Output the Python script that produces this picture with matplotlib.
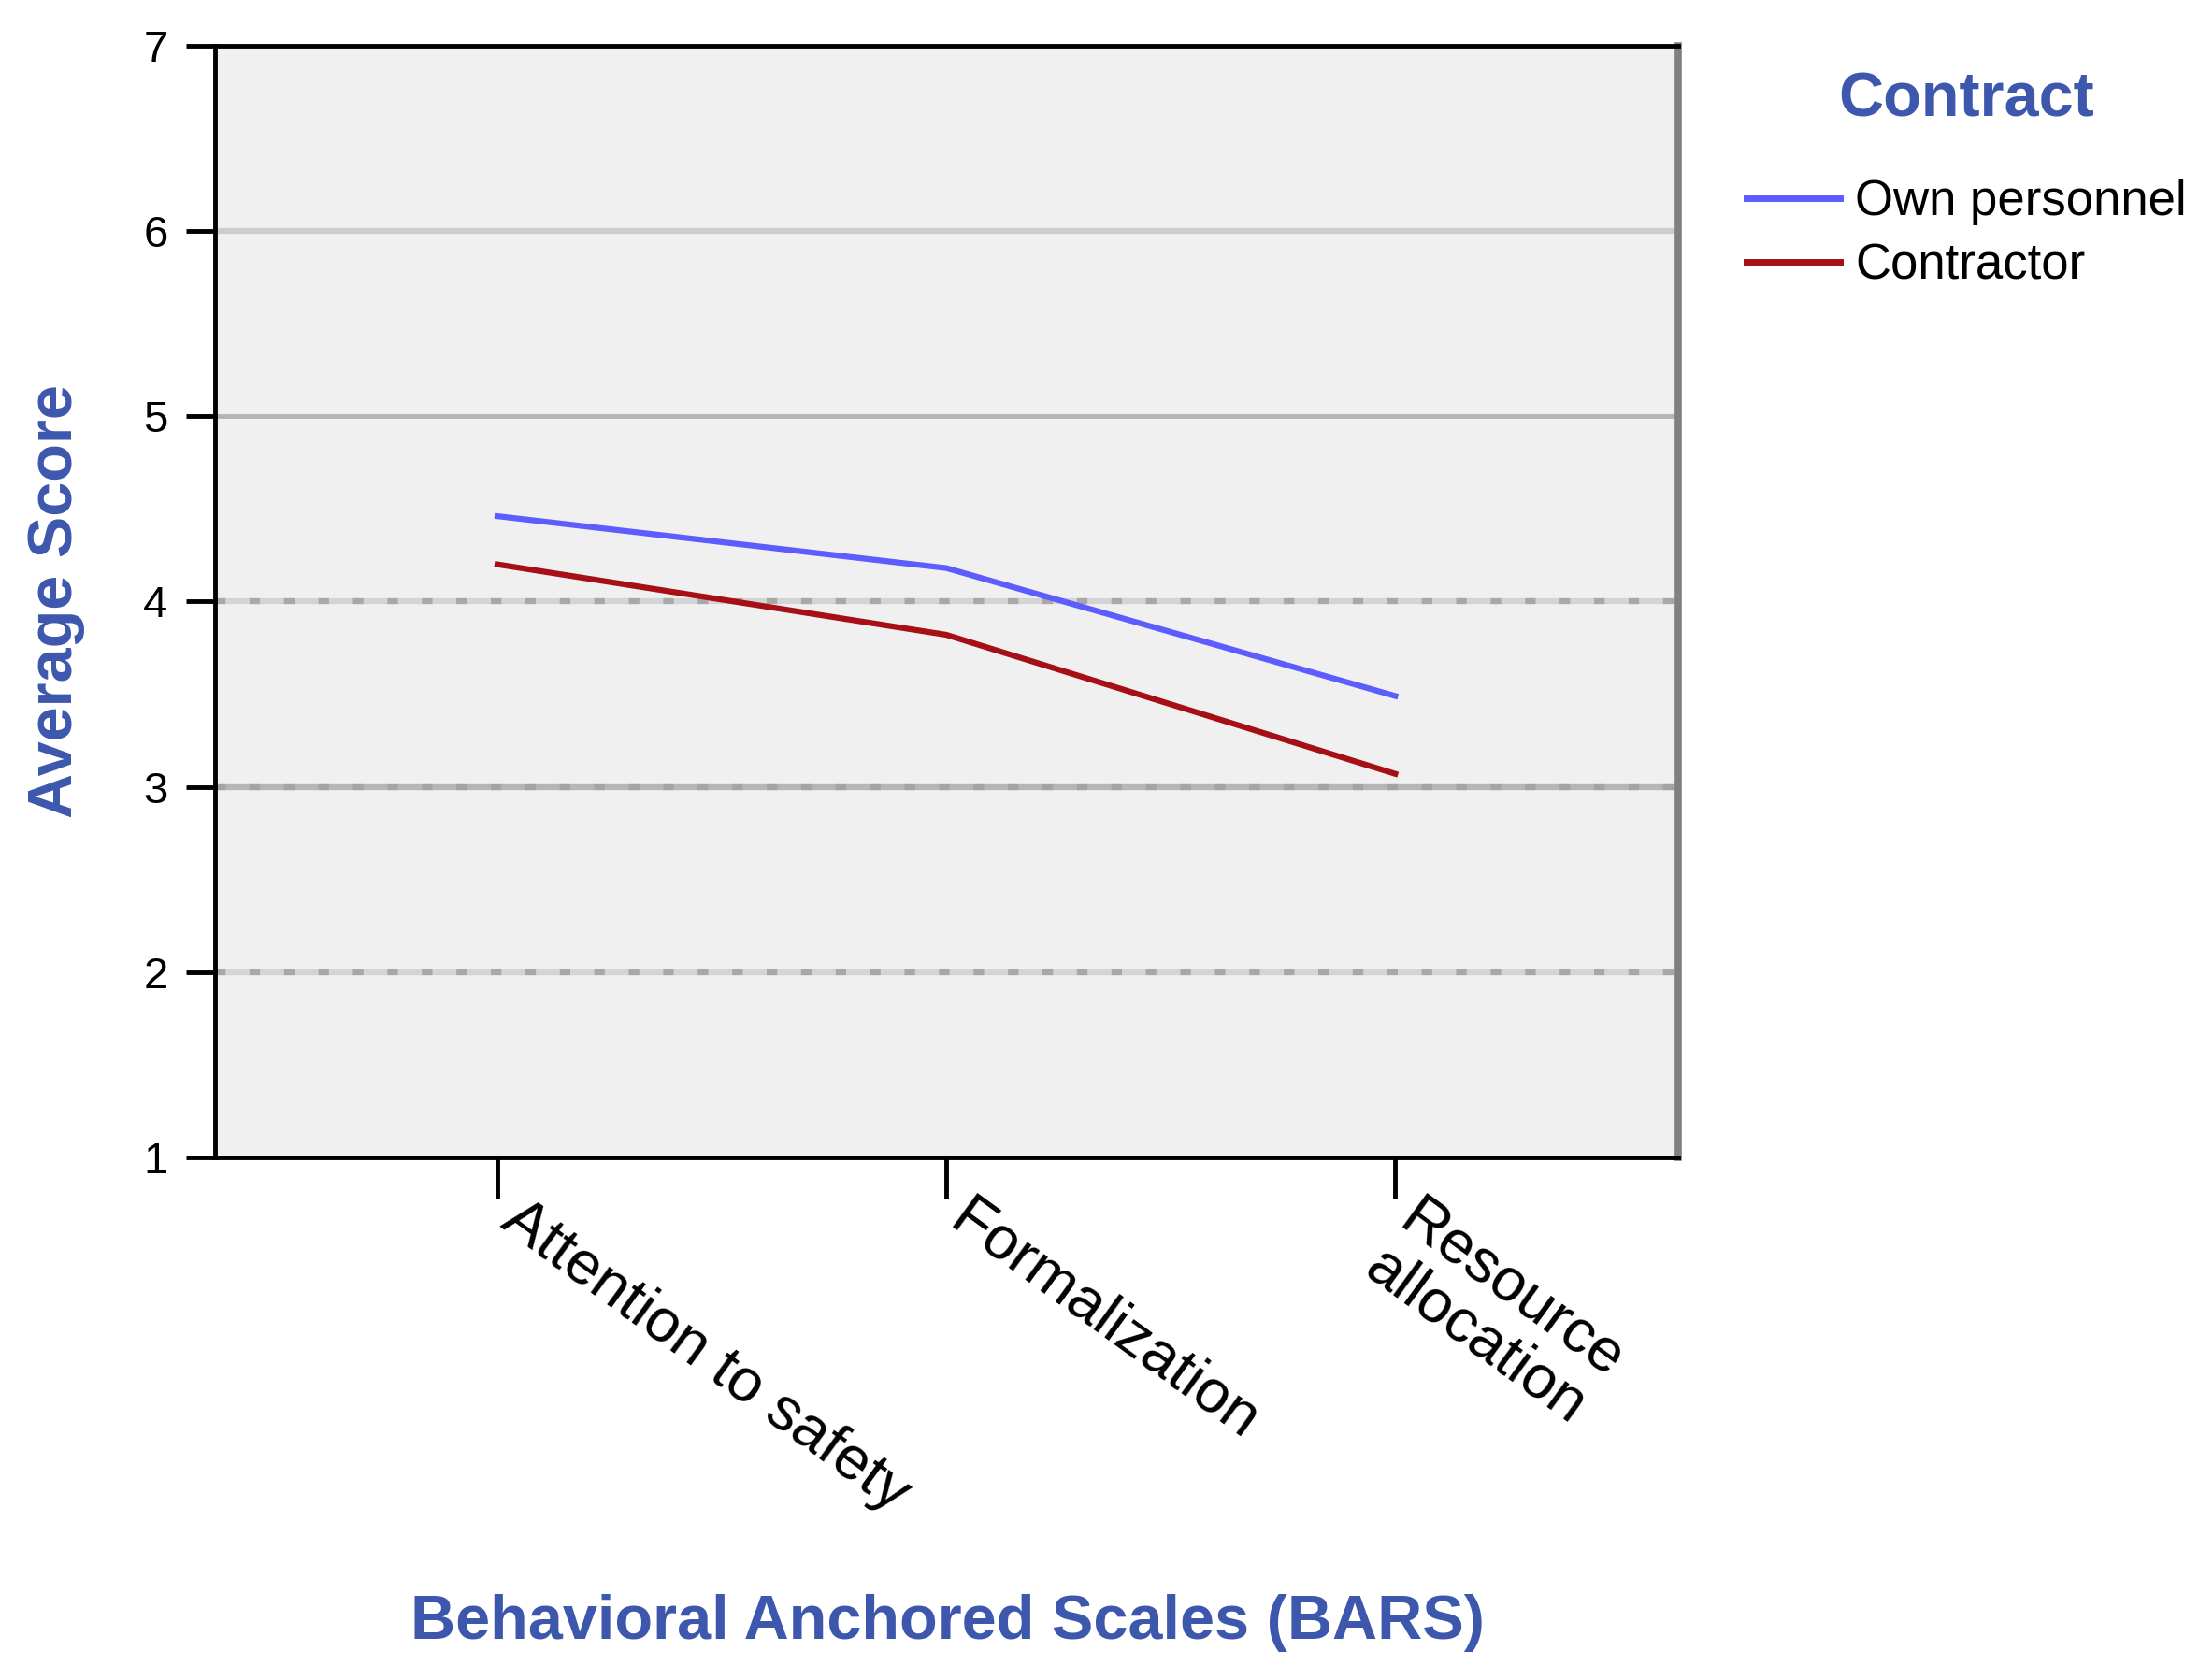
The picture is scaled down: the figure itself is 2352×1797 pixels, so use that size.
import matplotlib
matplotlib.use('Agg')
import matplotlib.pyplot as plt
import numpy as np

plt.rcParams['font.family'] = ['Liberation Sans', 'DejaVu Sans']

# data
categories = ['Attention to safety', 'Formalization', 'Resource\nallocation']
own_personnel = [4.46, 4.18, 3.49]
contractor = [4.20, 3.82, 3.07]
series_names = ['Own personnel', 'Contractor']

blue_txt = '#3d57ad'
x = np.arange(len(categories))

fig = plt.figure(figsize=(23.52, 17.97), dpi=100)
ax = fig.add_axes([0.0976, 0.311, 0.6655, 0.662])
ax.set_facecolor('#f0f0f0')

# grid lines (SPSS style, some solid, some dotted)
ax.axhline(6, color='#cdcdcd', lw=4.5, zorder=1)
ax.axhline(5, color='#b4b4b4', lw=3.5, zorder=1)
for yv, base, dot in [(4, '#d4d4d4', '#a8a8a8'), (3, '#b6b6b6', '#a4a4a4'), (2, '#d4d4d4', '#a8a8a8')]:
    ax.axhline(yv, color=base, lw=4.5, zorder=1)
    ax.axhline(yv, color=dot, lw=4.5, ls=(0, (1.8, 4.1)), zorder=1)

ax.plot(x, own_personnel, color='#5c5cff', lw=4.5, label=series_names[0], zorder=3)
ax.plot(x, contractor, color='#a50f15', lw=4.5, label=series_names[1], zorder=3)

ax.set_ylim(1, 7)
ax.set_xlim(-0.63, 2.63)
ax.set_yticks([1, 2, 3, 4, 5, 6, 7])
ax.set_xticks(x)
ax.set_xticklabels([])

for s in ['left', 'bottom', 'top']:
    ax.spines[s].set_color('black')
    ax.spines[s].set_linewidth(3.5)
ax.spines['right'].set_color('#808080')
ax.spines['right'].set_linewidth(5.5)

ax.tick_params(axis='y', direction='out', length=22, width=3.5, labelsize=34, pad=14)
ax.tick_params(axis='x', direction='out', length=32, width=3.5)

# rotated category labels
for xi, lab in zip(x, categories):
    ax.text(xi + 0.06, 0.82, lab, rotation=-36, rotation_mode='anchor', ha='left', va='top',
            fontsize=47, linespacing=1.05, clip_on=False)

ax.set_ylabel('Average Score', fontsize=48, fontweight='bold', color=blue_txt, labelpad=45)
fig.text(0.431, 0.034, 'Behavioral Anchored Scales (BARS)', fontsize=48,
         fontweight='bold', color=blue_txt, ha='center', va='center')

leg = ax.legend(loc='upper left', bbox_to_anchor=(0.774, 0.984), bbox_transform=fig.transFigure,
                frameon=False, fontsize=38, title='Contract', handlelength=1.9,
                handletextpad=0.3, labelspacing=0.35)
leg.get_title().set_fontsize(48)
leg.get_title().set_fontweight('bold')
leg.get_title().set_color(blue_txt)
leg._legend_box.sep = 38
for ln in leg.get_lines():
    ln.set_linewidth(5)

fig.savefig('out.png', dpi=100, facecolor='white')
